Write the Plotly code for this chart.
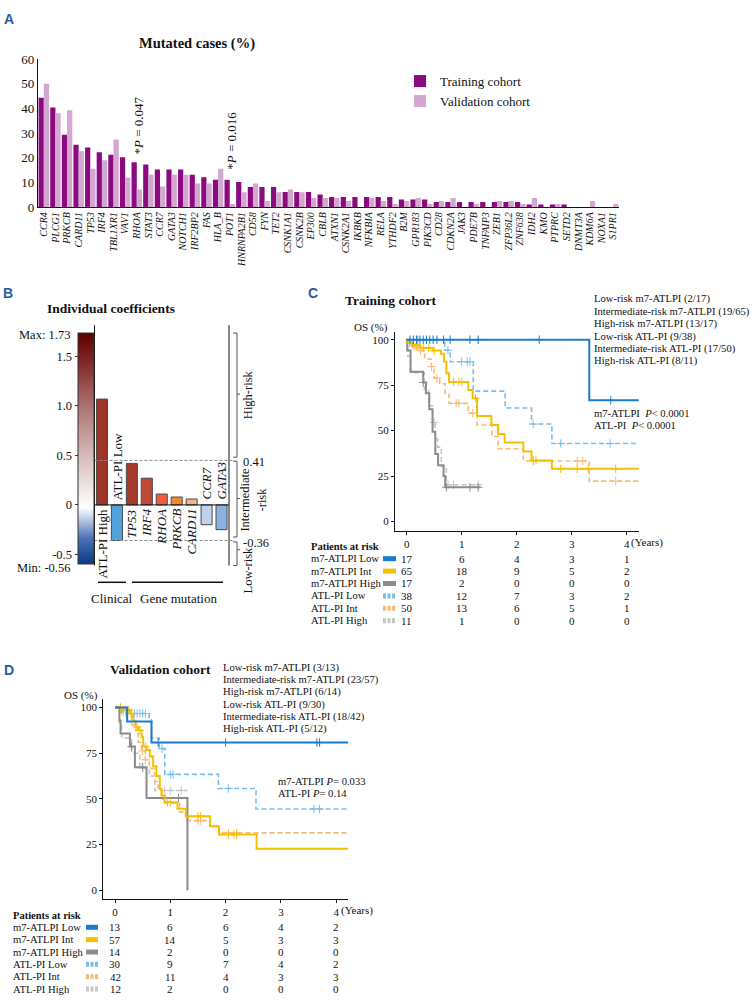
import plotly.graph_objects as go

W, H = 755, 1007
def X(px): return px / W
def Y(py): return 1 - py / H

SERIF = "Liberation Serif"
SANS = "Liberation Sans"
BLACK = "#111111"
LETTER = "#2A5C9C"

# ---------------- Panel A data ----------------
genes = ["CCR4", "PLCG1", "PRKCB", "CARD11", "TP53", "IRF4", "TBL1XR1", "VAV1", "RHOA", "STAT3",
         "CCR7", "GATA3", "NOTCH1", "IRF2BP2", "FAS", "HLA_B", "POT1", "HNRNPA2B1", "CD58", "FYN",
         "TET2", "CSNK1A1", "CSNK2B", "EP300", "CBLB", "ATXN1", "CSNK2A1", "IKBKB", "NFKBIA", "RELA",
         "YTHDF2", "B2M", "GPR183", "PIK3CD", "CD28", "CDKN2A", "JAK3", "PDE7B", "TNFAIP3", "ZEB1",
         "ZFP36L2", "ZNF638", "IDH2", "KMO", "PTPRC", "SETD2", "DNMT3A", "KDM6A", "NOXA1", "S1PR1"]
train_pct = [44.4, 40.4, 29.3, 25.3, 24.2, 22.2, 21.2, 20.2, 18.2, 17.2,
             15.2, 15.2, 15.2, 13.1, 12.1, 11.1, 11.1, 10.1, 8.1, 8.1,
             8.1, 6.1, 6.1, 6.1, 5.1, 4.0, 4.0, 4.0, 4.0, 4.0,
             4.0, 3.0, 3.0, 3.0, 2.0, 2.0, 2.0, 2.0, 2.0, 2.0,
             2.0, 2.0, 1.0, 1.0, 1.0, 1.0, 0.0, 0.0, 0.0, 0.0]
valid_pct = [50.0, 38.1, 39.3, 22.6, 15.5, 19.0, 27.4, 11.9, 7.1, 13.1,
             8.3, 13.1, 13.1, 9.5, 9.5, 15.5, 1.2, 6.0, 9.5, 2.4,
             6.0, 7.1, 6.0, 3.6, 3.6, 3.6, 2.4, 0.0, 3.6, 2.4,
             1.2, 2.4, 3.6, 1.2, 2.4, 3.6, 0.0, 1.2, 0.0, 2.4,
             2.4, 1.2, 3.6, 0.0, 1.2, 0.0, 0.0, 2.4, 0.0, 1.2]
a_yticks = [0, 10, 20, 30, 40, 50, 60]
pvals_a = [("RHOA", "*<i>P</i> = 0.047", 33.2), ("POT1", "*<i>P</i> = 0.016", 27.0)]

# ---------------- Panel B data ----------------
coef_labels = ["ATL-PI High", "ATL-PI Low", "TP53", "IRF4", "RHOA", "PRKCB", "CARD11", "CCR7", "GATA3"]
coef_values = [1.07, -0.36, 0.42, 0.27, 0.11, 0.08, 0.06, -0.20, -0.25]
coef_italic = [False, False, True, True, True, True, True, True, True]
coef_colors = ["#A0352A", "#52A3DD", "#A33A2B", "#C04A38", "#F25A40", "#F08A30", "#F5B090", "#BFD1EE", "#8CB0E0"]
coef_min, coef_max = -0.56, 1.73
cb_ticks = [-0.5, 0, 0.5, 1.0, 1.5]
cb_ticktext = ["-0.5", "0", "0.5", "1.0", "1.5"]
thresh_pos = [0.45, -0.36]
thresh_text = ["0.41", "-0.36"]

# ---------------- Panel C / D data ----------------
row_names = ["m7-ATLPI Low", "m7-ATLPI Int", "m7-ATLPI High", "ATL-PI Low", "ATL-PI Int", "ATL-PI High"]
km_colors = ["#1B7BCD", "#F5C000", "#8C8C8C", "#79BDEB", "#F9B978", "#C5C5C5"]
km_dashed = [False, False, False, True, True, True]

tr_times = [
    [0, 3.32, 4.22],
    [0, 0.03, 0.1, 0.25, 0.47, 0.62, 0.68, 0.72, 0.77, 1.12, 1.2, 1.28, 1.54, 1.66, 1.78, 2.12, 2.27, 2.64, 4.22],
    [0, 0.01, 0.07, 0.3, 0.35, 0.41, 0.47, 0.52, 0.57, 0.67, 0.7, 1.34],
    [0, 0.69, 0.79, 1.21, 1.79, 2.27, 2.64, 4.22],
    [0, 0.03, 0.1, 0.2, 0.33, 0.45, 0.5, 0.6, 0.7, 0.77, 1.12, 1.28, 1.55, 1.66, 2.12, 3.32, 4.22],
    [0, 0.02, 0.07, 0.32, 0.4, 0.47, 0.52, 0.56, 0.63, 0.72, 1.34],
]
tr_surv = [
    [100, 66.7, 66.7],
    [100, 98.5, 97, 95.5, 94, 92.3, 88, 81.5, 76.8, 72.3, 67.8, 58.1, 53.1, 48.2, 43.4, 38.5, 33.6, 29, 29],
    [100, 94, 82.4, 76.5, 70.6, 61.8, 49.4, 37.1, 30.9, 25, 18.8, 18.8],
    [100, 94.2, 87.9, 71.7, 62.4, 53.6, 42.9, 42.9],
    [100, 98, 96, 94, 89.3, 85.2, 78.9, 75.8, 69.9, 65, 59.6, 53.1, 46.8, 40, 33.3, 22.2, 22.2],
    [100, 90.9, 81.8, 72.7, 63.6, 54.5, 45.5, 40.9, 30.3, 20.2, 20.2],
]
tr_censor = [
    [0.06, 0.12, 0.18, 0.24, 0.3, 0.36, 0.42, 0.48, 0.55, 0.67, 0.79, 1.15, 1.3, 2.41, 3.71],
    [0.05, 0.12, 0.18, 0.3, 0.4, 0.5, 0.85, 0.95, 1.0, 1.25, 2.3, 2.35, 2.8, 3.1, 3.3, 3.8],
    [0.3, 0.72, 1.15, 1.3],
    [0.2, 0.75, 1.0, 1.1, 1.15, 2.3, 2.8, 3.7],
    [0.15, 0.25, 0.45, 0.55, 0.9, 0.95, 1.2, 2.3, 3.1, 3.2, 3.8],
    [0.5, 0.75, 0.85, 1.3],
]
tr_table = [[17, 6, 4, 3, 1], [65, 18, 9, 5, 2], [17, 2, 0, 0, 0],
            [38, 12, 7, 3, 2], [50, 13, 6, 5, 1], [11, 1, 0, 0, 0]]
tr_legend = ["Low-risk m7-ATLPI (2/17)", "Intermediate-risk m7-ATLPI (19/65)", "High-risk m7-ATLPI (13/17)",
             "Low-risk ATL-PI (9/38)", "Intermediate-risk ATL-PI (17/50)", "High-risk ATL-PI (8/11)"]
tr_ptext = ["m7-ATLPI  <i>P</i>< 0.0001", "ATL-PI  <i>P</i>< 0.0001"]

va_times = [
    [0, 0.22, 0.66, 4.22],
    [0, 0.15, 0.27, 0.33, 0.37, 0.42, 0.48, 0.51, 0.57, 0.63, 0.69, 0.75, 0.81, 0.84, 0.9, 1.13, 1.28, 1.72, 1.88, 2.56, 4.22],
    [0, 0.08, 0.1, 0.27, 0.36, 0.57, 1.31],
    [0, 0.12, 0.62, 0.66, 0.8, 0.9, 1.87, 2.55, 4.22],
    [0, 0.1, 0.2, 0.3, 0.38, 0.42, 0.48, 0.55, 0.62, 0.72, 0.78, 0.85, 0.9, 1.17, 1.3, 1.72, 1.88, 4.22],
    [0, 0.08, 0.12, 0.3, 0.45, 0.62, 0.72, 1.31],
]
va_surv = [
    [100, 92.3, 80.8, 80.8],
    [100, 98.6, 96.5, 92.9, 89.3, 87.5, 83.9, 78.6, 76.8, 73.2, 67.9, 62.5, 55.4, 51.8, 48.2, 44.6, 40.5, 35.1, 30.6, 22.8, 22.8],
    [100, 92.9, 85.7, 78.6, 67.3, 50.5, 0],
    [100, 96.7, 93.3, 83.3, 77.5, 63.4, 55.7, 44.5, 44.5],
    [100, 97.6, 95.2, 90.5, 85.7, 81, 76.2, 71.4, 66.7, 59.5, 54.8, 50, 47.6, 42.9, 38.1, 35, 31.4, 31.4],
    [100, 91.7, 83.3, 75, 66.7, 62.5, 54.6, 54.6],
]
va_censor = [
    [0.78, 2.0, 3.65, 3.7],
    [0.1, 0.2, 0.25, 0.4, 0.45, 0.55, 0.95, 1.0, 1.5, 1.55, 2.05, 2.15, 2.2],
    [0.3, 0.5, 1.15],
    [0.3, 0.35, 0.4, 0.45, 0.5, 0.55, 0.85, 1.0, 1.05, 2.05, 3.6, 3.7],
    [0.15, 0.5, 0.55, 1.5, 1.55, 2.05, 2.2],
    [0.5, 0.9, 1.0, 1.2],
]
va_table = [[13, 6, 6, 4, 2], [57, 14, 5, 3, 3], [14, 2, 0, 0, 0],
            [30, 9, 7, 4, 2], [42, 11, 4, 3, 3], [12, 2, 0, 0, 0]]
va_legend = ["Low-risk m7-ATLPI (3/13)", "Intermediate-risk m7-ATLPI (23/57)", "High-risk m7-ATLPI (6/14)",
             "Low-risk ATL-PI (9/30)", "Intermediate-risk ATL-PI (18/42)", "High-risk ATL-PI (5/12)"]
va_ptext = ["m7-ATLPI <i>P</i>= 0.033", "ATL-PI <i>P</i>= 0.14"]

km_xticks = [0, 1, 2, 3, 4]
km_yticks = [0, 25, 50, 75, 100]

fig = go.Figure()
ann = []
shapes = []

def txt(x, y, text, size=12, anchor="center", yanchor="middle", bold=False, family=SERIF, color=BLACK,
        angle=0, xref="paper", yref="paper", xshift=0, yshift=0):
    if bold:
        text = "<b>" + text + "</b>"
    ann.append(dict(x=x, y=y, xref=xref, yref=yref, text=text, showarrow=False, xanchor=anchor,
                    yanchor=yanchor, textangle=angle, xshift=xshift, yshift=yshift, borderpad=0,
                    font=dict(family=family, size=size, color=color)))

def hline(x0, x1, y, color=BLACK, width=1, dash="solid", yref="paper"):
    shapes.append(dict(type="line", xref="paper", yref=yref, x0=x0, x1=x1, y0=y, y1=y,
                       line=dict(color=color, width=width, dash=dash)))

def vline(x, y0, y1, color=BLACK, width=1):
    shapes.append(dict(type="line", xref="paper", yref="paper", x0=x, x1=x, y0=y0, y1=y1,
                       line=dict(color=color, width=width)))

# ================= Panel A =================
fig.add_trace(go.Bar(x=genes, y=train_pct, name="Training cohort",
                     marker=dict(color="#8B0A80", line=dict(width=0)),
                     xaxis="x", yaxis="y", hoverinfo="skip"))
fig.add_trace(go.Bar(x=genes, y=valid_pct, name="Validation cohort",
                     marker=dict(color="#D3A7CF", line=dict(width=0)),
                     xaxis="x", yaxis="y", hoverinfo="skip"))
txt(X(9), Y(12.5), "A", size=14, bold=True, family=SANS, color=LETTER)
txt(X(197), Y(37.5), "Mutated cases (%)", size=14.5, bold=True)
for g, t, yv in pvals_a:
    txt(g, yv, t, size=13, angle=-90, yanchor="middle", xref="x", yref="y", xshift=1.5)

# ================= Panel B =================
fig.add_trace(go.Bar(x=list(range(len(coef_labels))), y=coef_values, width=0.74,
                     marker=dict(color=coef_colors, line=dict(color="#4A4A4A", width=1)),
                     xaxis="x2", yaxis="y2", showlegend=False, hoverinfo="skip"))
# colour bar (gradient legend)
fig.add_trace(go.Scatter(x=[0, 0], y=[0, 0], mode="markers", xaxis="x2", yaxis="y2", showlegend=False,
                         hoverinfo="skip",
                         marker=dict(size=0.1, color=[coef_min, coef_max], cmin=coef_min, cmax=coef_max,
                                     colorscale=[[0.0, "#0B3A88"], [0.11, "#4A70B5"], [0.2, "#C5D0EA"],
                                                 [0.245, "#FFFFFF"], [0.46, "#D9BDBD"], [0.68, "#AD7373"],
                                                 [0.88, "#7E2626"], [1.0, "#5C0000"]],
                                     showscale=True,
                                     colorbar=dict(x=X(78), xanchor="left", y=Y(330.7), yanchor="top",
                                                   len=231, lenmode="pixels", thickness=16,
                                                   thicknessmode="pixels", xpad=0, ypad=0,
                                                   outlinewidth=1, outlinecolor="#333333",
                                                   showticklabels=False, ticks=""))))
txt(X(8), Y(290), "B", size=14, bold=True, family=SANS, color=LETTER)
txt(X(110.5), Y(306.5), "Individual coefficients", size=13.5, bold=True)
txt(X(71), Y(333), "Max: 1.73", size=12.5, anchor="right")
txt(X(71), Y(569), "Min: -0.56", size=12.5, anchor="right")
for i, (lab, v) in enumerate(zip(coef_labels, coef_values)):
    t = "<i>" + lab + "</i>" if coef_italic[i] else lab
    if v >= 0:
        txt(i, 0, t, size=13, angle=-90, yanchor="top", xref="x2", yref="y2", yshift=-3)
    else:
        txt(i, 0, t, size=13, angle=-90, yanchor="bottom", xref="x2", yref="y2", yshift=4)
# frame lines
vline(X(94.5), Y(323), Y(567))
vline(X(229), Y(323), Y(567))
hline(X(94.5), X(229), 0, yref="y2")
for tp, tt in zip(thresh_pos, thresh_text):
    hline(X(94.5), X(234), tp, color="#8A8A8A", width=1, dash="3px,2px", yref="y2")
    txt(X(242), tp, tt, size=12.5, anchor="left", xref="paper", yref="y2", yshift=-2)
# brackets
for top, bot, mid in [(331, 457, 393), (461, 538, 499), (543, 567, 551)]:
    hline(X(233), X(237), Y(top), color="#555555")
    hline(X(233), X(237), Y(bot), color="#555555")
    vline(X(237), Y(top), Y(bot), color="#555555")
    hline(X(237), X(240), Y(mid), color="#555555")
txt(X(248), Y(393), "High-risk", size=12.5, angle=-90)
txt(X(253), Y(500), "Intermediate<br>-risk", size=12.5, angle=-90)
txt(X(248), Y(571), "Low-risk", size=12.5, angle=-90)
hline(X(98), X(126), Y(584), width=1.5)
hline(X(132), X(223), Y(584), width=1.5)
txt(X(112), Y(600), "Clinical", size=13)
txt(X(178), Y(600), "Gene mutation", size=13)

# ================= KM panels =================
def step_at(ts, ss, t):
    val = ss[0]
    for ti, si in zip(ts, ss):
        if ti <= t:
            val = si
    return val

def km_panel(xa, ya, times, surv, cens, table, legend_lines, ptext, g):
    order = [5, 4, 3, 2, 1, 0]
    for k in order:
        dash = "5px,3px" if km_dashed[k] else "solid"
        w = 1.6 if km_dashed[k] else 2.0
        fig.add_trace(go.Scatter(x=times[k], y=surv[k], mode="lines", line=dict(color=km_colors[k], width=w,
                                 dash=dash, shape="hv"), xaxis=xa, yaxis=ya, showlegend=False,
                                 hoverinfo="skip"))
        cy = [step_at(times[k], surv[k], c) for c in cens[k]]
        fig.add_trace(go.Scatter(x=cens[k], y=cy, mode="markers", xaxis=xa, yaxis=ya, showlegend=False,
                                 hoverinfo="skip",
                                 marker=dict(symbol="cross-thin", size=6,
                                             line=dict(width=1, color=km_colors[k]))))
    txt(X(g["letter"][0]), Y(g["letter"][1]), g["L"], size=14, bold=True, family=SANS, color=LETTER)
    txt(X(g["title"][0]), Y(g["title"][1]), g["T"], size=13.5, bold=True)
    txt(X(g["os"][0]), Y(g["os"][1]), "OS (%)", size=11)
    for i, line in enumerate(legend_lines):
        txt(X(g["leg"][0]), Y(g["leg"][1] + i * g["leg"][2]), line, size=10.6, anchor="left")
    for i, line in enumerate(ptext):
        txt(X(g["p"][0]), Y(g["p"][1] + i * g["p"][2]), line, size=10.6, anchor="left")
    txt(X(g["years"][0]), Y(g["years"][1]), "(Years)", size=11, anchor="left")
    txt(X(g["tab"][0]), Y(g["tab"][1]), "Patients at risk", size=10.5, anchor="left", bold=True)
    for r, name in enumerate(row_names):
        yy = g["tab"][2] + r * g["tab"][3]
        txt(X(g["tab"][0]), Y(yy), name, size=10.6, anchor="left")
        sx0, sx1 = g["sw"]
        shapes.append(dict(type="line", xref="paper", yref="paper", x0=X(sx0), x1=X(sx1), y0=Y(yy), y1=Y(yy),
                           line=dict(color=km_colors[r], width=5,
                                     dash="3px,1.5px" if km_dashed[r] else "solid")))
        for c, val in enumerate(table[r]):
            txt(km_xticks[c], Y(yy), str(val), size=11, xref=xa)

geo_c = dict(L="C", T="Training cohort", letter=(313, 290), title=(390, 298), os=(371, 325),
             leg=(592.7, 296.7, 12.6), p=(592.7, 412.7, 12.6), years=(630, 543.3),
             tab=(310, 547.5, 560, 12.6), sw=(383, 396))
geo_d = dict(L="D", T="Validation cohort", letter=(9, 673), title=(160, 673), os=(81, 699),
             leg=(222, 670.7, 12.45), p=(276.7, 786, 12.6), years=(339.5, 916.7),
             tab=(11.7, 922, 934.2, 12.55), sw=(86, 98))
km_panel("x3", "y3", tr_times, tr_surv, tr_censor, tr_table, tr_legend, tr_ptext, geo_c)
km_panel("x4", "y4", va_times, va_surv, va_censor, va_table, va_legend, va_ptext, geo_d)

# ================= Layout =================
km_axis = dict(showline=True, linecolor=BLACK, linewidth=1, ticks="outside", ticklen=3, tickcolor=BLACK,
               showgrid=False, zeroline=False, tickfont=dict(family=SERIF, size=11, color=BLACK))

fig.update_layout(
    width=W, height=H, autosize=False, margin=dict(l=0, r=0, t=0, b=0),
    paper_bgcolor="white", plot_bgcolor="rgba(0,0,0,0)",
    barmode="group", bargap=0.1, bargroupgap=0,
    font=dict(family=SERIF, color=BLACK),
    showlegend=True, hovermode=False,
    legend=dict(x=X(400), y=Y(60), xanchor="left", yanchor="top", bgcolor="rgba(0,0,0,0)",
                font=dict(family=SERIF, size=13, color=BLACK), tracegroupgap=0, itemwidth=30),
    xaxis=dict(domain=[X(38), X(619)], anchor="y", range=[-0.5, len(genes) - 0.5],
               tickmode="array", tickvals=genes, ticktext=["<i>" + g + "</i>" for g in genes],
               tickangle=-90, tickfont=dict(family=SERIF, size=10, color=BLACK), ticks="",
               showline=True, linecolor=BLACK, linewidth=1.2, showgrid=False, zeroline=False),
    yaxis=dict(domain=[Y(203), Y(53)], anchor="x", range=[0, 60], tickvals=a_yticks, ticks="",
               tickfont=dict(family=SERIF, size=13, color=BLACK), showline=True, linecolor=BLACK,
               linewidth=1.2, showgrid=False, zeroline=False),
    xaxis2=dict(domain=[X(94.5), X(229)], anchor="y2", range=[-0.5, len(coef_labels) - 0.5], visible=False),
    yaxis2=dict(domain=[Y(567), Y(323)], anchor="free", position=X(77.5), side="left",
                range=[-0.613, 1.817], tickvals=cb_ticks, ticktext=cb_ticktext, ticks="outside", ticklen=3,
                tickcolor="#333333", showline=False, showgrid=False, zeroline=False,
                tickfont=dict(family=SERIF, size=12.5, color=BLACK)),
    xaxis3=dict(km_axis, domain=[X(395), X(639)], anchor="y3", range=[-0.213, 4.224],
                tickvals=km_xticks, ticktext=[str(v) for v in km_xticks]),
    yaxis3=dict(km_axis, domain=[Y(531.7), Y(330)], anchor="x3", range=[-5.1, 104.2], tickvals=km_yticks),
    xaxis4=dict(km_axis, domain=[X(103.3), X(348.3)], anchor="y4", range=[-0.2116, 4.219],
                tickvals=km_xticks, ticktext=[str(v) for v in km_xticks]),
    yaxis4=dict(km_axis, domain=[Y(905.3), Y(702.7)], anchor="x4", range=[-4.63, 104.5], tickvals=km_yticks),
    annotations=ann, shapes=shapes,
)

fig.write_html("out.html", config={"displayModeBar": False, "staticPlot": True},
               post_script="document.body.style.margin='0px';document.body.style.overflow='hidden';")
